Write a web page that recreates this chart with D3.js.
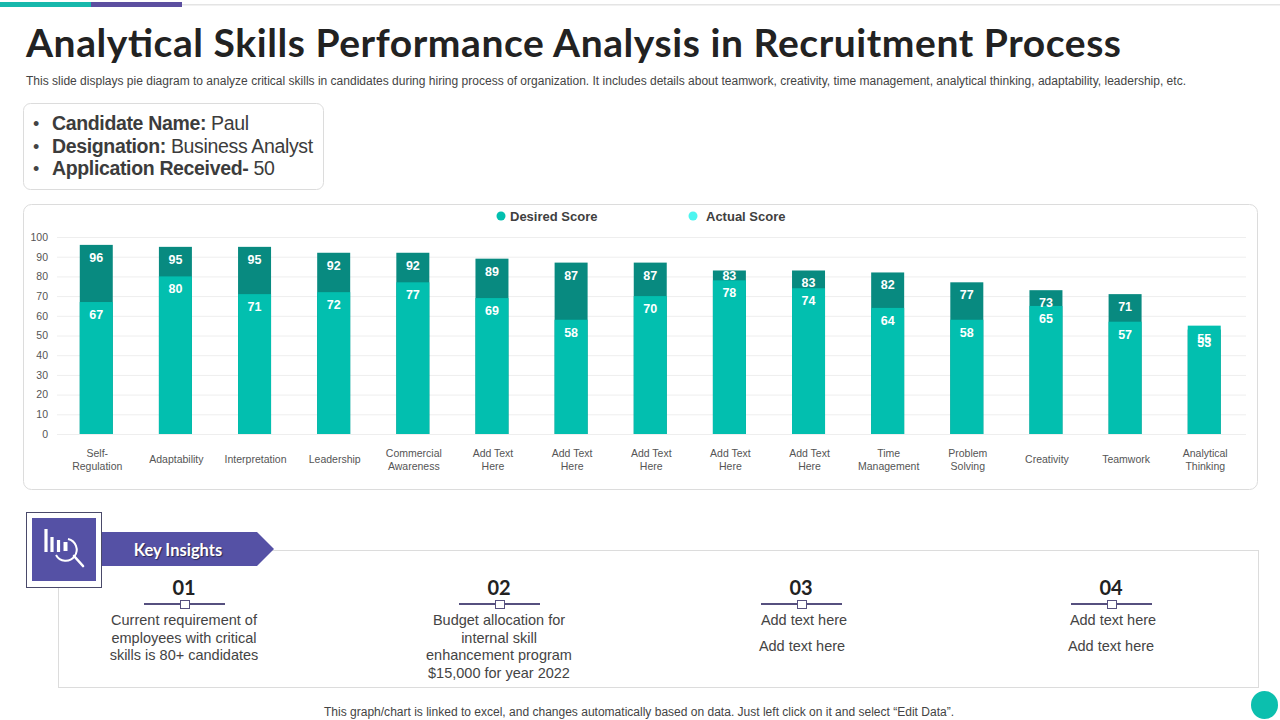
<!DOCTYPE html>
<html>
<head>
<meta charset="utf-8">
<script src="https://cdn.jsdelivr.net/npm/d3@7"></script>
<style>
    html, body { margin: 0; padding: 0; background: #fff; }
    svg { display: block; }
    text { font-family: "Liberation Sans", Arial, sans-serif; }
    .heading { font-family: Lato, "Open Sans", sans-serif; font-weight: 700; }
</style>
</head>
<body>
<svg id="chart" width="1280" height="720"></svg>
<script>
const categories = [
    'Self-\nRegulation', 'Adaptability', 'Interpretation', 'Leadership', 'Commercial\nAwareness',
    'Add Text\nHere', 'Add Text\nHere', 'Add Text\nHere', 'Add Text\nHere', 'Add Text\nHere',
    'Time\nManagement', 'Problem\nSolving', 'Creativity', 'Teamwork', 'Analytical\nThinking'
];
const desiredScore = [96, 95, 95, 92, 92, 89, 87, 87, 83, 83, 82, 77, 73, 71, 53];
const actualScore = [67, 80, 71, 72, 77, 69, 58, 70, 78, 74, 64, 58, 65, 57, 55];
const yTicks = [0, 10, 20, 30, 40, 50, 60, 70, 80, 90, 100];

const legendLabels = ['Desired Score', 'Actual Score'];
const candidateRows = [
    ['Candidate Name:', ' Paul'],
    ['Designation:', ' Business Analyst'],
    ['Application Received-', ' 50']
];
const insightNumbers = ['01', '02', '03', '04'];
const insightTexts = [
    ['Current requirement of', 'employees with critical', 'skills is 80+ candidates'],
    ['Budget allocation for', 'internal skill', 'enhancement program', '$15,000 for year 2022'],
    ['Add text here', 'Add text here'],
    ['Add text here', 'Add text here']
];

const TEAL = '#02bfaf';
const DARK_TEAL = '#088a80';
const CYAN = '#4df5f0';
const PURPLE = '#5551a5';
const BORDER = '#dcdcdc';

const svg = d3.select('#chart');

// top strip
svg.append('rect').attr('x', 0).attr('y', 4).attr('width', 1280).attr('height', 1.5).attr('fill', '#e4e4e4');
svg.append('rect').attr('x', 0).attr('y', 2).attr('width', 91).attr('height', 5).attr('fill', '#17b8ac');
svg.append('rect').attr('x', 91).attr('y', 2).attr('width', 91).attr('height', 5).attr('fill', '#5c4fa0');

// title block
svg.append('text').attr('class', 'heading')
    .attr('x', 26).attr('y', 57)
    .attr('font-size', 39).attr('fill', '#222')
    .attr('textLength', 1095).attr('lengthAdjust', 'spacing')
    .text('Analytical Skills Performance Analysis in Recruitment Process');

svg.append('text')
    .attr('x', 26).attr('y', 85)
    .attr('font-size', 12).attr('fill', '#444')
    .attr('textLength', 1160).attr('lengthAdjust', 'spacingAndGlyphs')
    .text('This slide displays pie diagram to analyze critical skills in candidates during hiring process of organization. It includes details about teamwork, creativity, time management, analytical thinking, adaptability, leadership, etc.');

// candidate box
svg.append('rect')
    .attr('x', 23.5).attr('y', 103.5).attr('width', 300).attr('height', 86).attr('rx', 7)
    .attr('fill', '#fff').attr('stroke', BORDER);

const rowY = d3.scalePoint().domain(d3.range(candidateRows.length)).range([130, 175]);

candidateRows.forEach((row, i) => {
    svg.append('text').attr('x', 33).attr('y', rowY(i))
        .attr('font-size', 18).attr('fill', '#444').text('•');

    const line = svg.append('text').attr('x', 52).attr('y', rowY(i))
        .attr('font-size', 19.5).attr('letter-spacing', -0.35).attr('fill', '#3c3c3c');
    line.append('tspan').attr('font-weight', 700).text(row[0]);
    line.append('tspan').text(row[1]);
});

// chart card
svg.append('rect')
    .attr('x', 23.5).attr('y', 204.5).attr('width', 1234).attr('height', 285).attr('rx', 8)
    .attr('fill', '#fff').attr('stroke', BORDER);

const x = d3.scaleBand().domain(d3.range(categories.length)).range([56.7, 1243.8]).paddingInner(0.583).paddingOuter(0.2915);
const y = d3.scaleLinear().domain([0, 100]).range([434, 237]);

svg.append('g')
    .selectAll('line')
    .data(yTicks)
    .join('line')
    .attr('x1', 57).attr('x2', 1246)
    .attr('y1', d => y(d) + 0.5).attr('y2', d => y(d) + 0.5)
    .attr('stroke', '#eeeeee');

const yAxis = svg.append('g')
    .attr('transform', 'translate(57,0)')
    .call(d3.axisLeft(y).tickValues(yTicks).tickSize(0).tickPadding(9));
yAxis.select('.domain').remove();
yAxis.selectAll('text')
    .attr('font-size', 10.5).attr('fill', '#555')
    .style('font-family', '"Liberation Sans", Arial, sans-serif');

// desired first, actual is drawn over it
svg.append('g')
    .selectAll('rect')
    .data(desiredScore)
    .join('rect')
    .attr('x', (d, i) => x(i)).attr('width', x.bandwidth())
    .attr('y', d => y(d)).attr('height', d => y(0) - y(d))
    .attr('fill', DARK_TEAL);

svg.append('g')
    .selectAll('rect')
    .data(actualScore)
    .join('rect')
    .attr('x', (d, i) => x(i)).attr('width', x.bandwidth())
    .attr('y', d => y(d)).attr('height', d => y(0) - y(d))
    .attr('fill', TEAL);

// the ninth desired label sits higher in the slide, clear of its actual label
const labelNudge = (values, i) => (values === desiredScore && i === 8 ? -7.5 : 0);

[desiredScore, actualScore].forEach(values => {
    svg.append('g')
        .selectAll('text')
        .data(values)
        .join('text')
        .attr('x', (d, i) => x(i) + x.bandwidth() / 2)
        .attr('y', (d, i) => y(d) + 17 + labelNudge(values, i))
        .attr('text-anchor', 'middle')
        .attr('font-size', 12.5).attr('font-weight', 700).attr('fill', '#fff')
        .text(d => d);
});

// category labels
const catLabels = svg.append('g')
    .selectAll('text')
    .data(categories)
    .join('text')
    .attr('text-anchor', 'middle')
    .attr('font-size', 10.5).attr('fill', '#555');

catLabels.each(function (d, i) {
    const lines = d.split('\n');
    const top = lines.length > 1 ? 457 : 463;
    d3.select(this).selectAll('tspan')
        .data(lines)
        .join('tspan')
        .attr('x', x(i) + x.bandwidth() / 2 + 1)
        .attr('y', (l, j) => top + j * 13)
        .text(l => l);
});

// legend
const legendX = [501, 693];
const legendColors = [TEAL, CYAN];
const legendTextX = [510, 706];

legendLabels.forEach((label, i) => {
    svg.append('circle').attr('cx', legendX[i]).attr('cy', 216).attr('r', 4.5).attr('fill', legendColors[i]);
    svg.append('text').attr('x', legendTextX[i]).attr('y', 221)
        .attr('font-size', 13).attr('font-weight', 700).attr('fill', '#404040').text(label);
});

// key insights frame
svg.append('rect')
    .attr('x', 58.5).attr('y', 550.5).attr('width', 1200).attr('height', 137)
    .attr('fill', '#fff').attr('stroke', BORDER);

svg.append('path')
    .attr('d', 'M101,532H257L274,549L257,566H101Z')
    .attr('fill', PURPLE);

svg.append('text').attr('class', 'heading')
    .attr('x', 178).attr('y', 556)
    .attr('text-anchor', 'middle')
    .attr('font-size', 16.5).attr('fill', '#fff')
    .style('text-shadow', '1px 1px 1px rgba(0,0,0,0.5)')
    .text('Key Insights');

// icon
svg.append('rect')
    .attr('x', 26.5).attr('y', 512.5).attr('width', 75).attr('height', 75)
    .attr('fill', '#fff').attr('stroke', '#4a4a6a');
svg.append('rect')
    .attr('x', 32).attr('y', 518).attr('width', 64).attr('height', 63)
    .attr('fill', PURPLE);

const icon = svg.append('g').attr('fill', 'none').attr('stroke', '#fff');
icon.append('path').attr('d', 'M46,529V552').attr('stroke-width', 3.2);
icon.append('path').attr('d', 'M52,537V552').attr('stroke-width', 3.2);
icon.append('path').attr('d', 'M58.5,540V552').attr('stroke-width', 3.2);
icon.append('path').attr('d', 'M65.5,542V551').attr('stroke-width', 4);
icon.append('path')
    .attr('d', 'M56,555A11,11 0 1 0 68,539')
    .attr('stroke-width', 2);
icon.append('path').attr('d', 'M74,556L83,566').attr('stroke-width', 2.6).attr('stroke-linecap', 'round');

// insight columns
const columnCenters = [184, 499, 801, 1111];
const lineYs = [
    [625, 643, 660],
    [625, 643, 660, 678],
    [625, 651],
    [625, 651]
];
const lineCenters = [
    [184, 184, 184],
    [499, 499, 499, 499],
    [804, 802],
    [1113, 1111]
];

insightNumbers.forEach((num, i) => {
    const cx = columnCenters[i];

    svg.append('text').attr('class', 'heading')
        .attr('x', cx).attr('y', 595)
        .attr('text-anchor', 'middle')
        .attr('font-size', 20).attr('fill', '#222')
        .text(num);

    svg.append('line')
        .attr('x1', cx - 40).attr('x2', cx + 41)
        .attr('y1', 604).attr('y2', 604)
        .attr('stroke', '#56507f').attr('stroke-width', 2);
    svg.append('rect')
        .attr('x', cx - 3.5).attr('y', 600.5).attr('width', 9).attr('height', 8)
        .attr('fill', '#fff').attr('stroke', '#56507f');

    insightTexts[i].forEach((t, j) => {
        svg.append('text')
            .attr('x', lineCenters[i][j]).attr('y', lineYs[i][j])
            .attr('text-anchor', 'middle')
            .attr('font-size', 14.5).attr('fill', '#444')
            .text(t);
    });
});

// footer
svg.append('text')
    .attr('x', 639).attr('y', 716)
    .attr('text-anchor', 'middle')
    .attr('font-size', 12).attr('fill', '#444')
    .attr('textLength', 630).attr('lengthAdjust', 'spacingAndGlyphs')
    .text('This graph/chart is linked to excel, and changes automatically based on data. Just left click on it and select “Edit Data”.');

svg.append('ellipse')
    .attr('cx', 1264.5).attr('cy', 705).attr('rx', 13.5).attr('ry', 14)
    .attr('fill', '#0cbfae');
</script>
</body>
</html>
